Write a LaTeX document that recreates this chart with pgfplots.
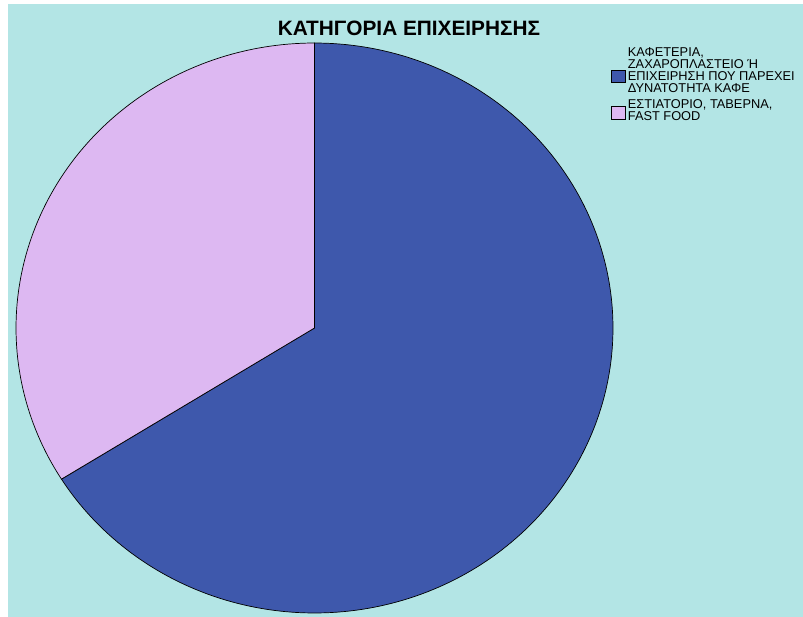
\documentclass[border=0pt]{standalone}
\usepackage{pgfplots}
\pgfplotsset{compat=1.18}
\usepackage{fontspec}
\setmainfont{Liberation Sans}
\definecolor{bgc}{RGB}{179,229,229}
\definecolor{blueS}{RGB}{62,88,172}
\definecolor{pinkS}{RGB}{221,184,242}
\begin{document}
\begin{tikzpicture}
\begin{axis}[
  scale only axis, width=803pt, height=617pt,
  xmin=0, xmax=803, ymin=0, ymax=617, y dir=reverse,
  hide axis, clip=false,
  legend style={at={(axis cs:611,45)}, anchor=north west, draw=none, fill=none,
    font=\fontsize{12.8}{12.2}\selectfont, cells={align=left, anchor=west},
    row sep=1.5pt, inner sep=0pt},
  legend cell align=left,
]
\fill[white] (axis cs:0,0) rectangle (axis cs:803,617);
\fill[bgc] (axis cs:8,4) rectangle (axis cs:803,617);
% blue slice: 66.1 %
\addplot[fill=blueS, draw=black, line width=0.7pt, domain={90+3.6*33.9}:450, samples=200, variable=\t, legend image code/.code={\draw[black, line width=0.7pt, fill=blueS] (0pt,-12pt) rectangle (14pt,0pt);}]
  ({314.5+298.5*cos(\t)},{328-285*sin(\t)}) -- (axis cs:314.5,328) -- cycle;
\addlegendentry{ΚΑΦΕΤΕΡΙΑ,\\ΖΑΧΑΡΟΠΛΑΣΤΕΙΟ Ή\\ΕΠΙΧΕΙΡΗΣΗ ΠΟΥ ΠΑΡΕΧΕΙ\\ΔΥΝΑΤΟΤΗΤΑ ΚΑΦΕ}
% pink slice: 33.9 %
\addplot[fill=pinkS, draw=black, line width=0.7pt, domain=90:{90+3.6*33.9}, samples=100, variable=\t, legend image code/.code={\draw[black, line width=0.7pt, fill=pinkS] (0pt,-8pt) rectangle (14pt,5pt);}]
  ({314.5+298.5*cos(\t)},{328-285*sin(\t)}) -- (axis cs:314.5,328) -- cycle;
\addlegendentry{ΕΣΤΙΑΤΟΡΙΟ, ΤΑΒΕΡΝΑ,\\FAST FOOD}
\node[font=\bfseries\fontsize{20.8}{21}\selectfont, anchor=base] at (axis cs:409,36) {ΚΑΤΗΓΟΡΙΑ ΕΠΙΧΕΙΡΗΣΗΣ};
\end{axis}
\end{tikzpicture}
\end{document}
